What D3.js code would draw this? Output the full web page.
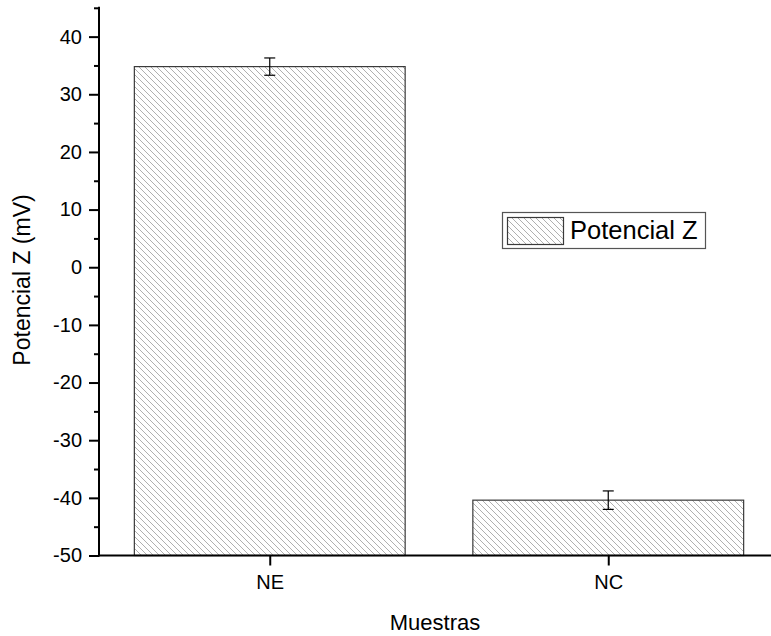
<!DOCTYPE html>
<html>
<head>
<meta charset="utf-8">
<script src="https://cdn.jsdelivr.net/npm/d3@7/dist/d3.min.js"></script>
<style>
  html, body { margin: 0; padding: 0; background: #fff; }
  svg { display: block; }
  text { font-family: "Liberation Sans", Arial, sans-serif; fill: #000; }
</style>
</head>
<body>
<script>
// Zeta potential per sample
const categories = ["NE", "NC"];
const values = [34.8, -40.4];
const errors = [1.5, 1.6];
const yMajorTicks = [-50, -40, -30, -20, -10, 0, 10, 20, 30, 40];
const yMinorTicks = [-45, -35, -25, -15, -5, 5, 15, 25, 35, 45];
const seriesName = "Potencial Z";

const W = 771, H = 636;
const svg = d3.select("body").append("svg").attr("width", W).attr("height", H);

const defs = svg.append("defs");
const pat = defs.append("pattern")
  .attr("id", "hatch")
  .attr("patternUnits", "userSpaceOnUse")
  .attr("width", 6).attr("height", 6);
pat.append("path")
  .attr("d", "M0,0 L6,6 M-1,5 L1,7 M5,-1 L7,1")
  .attr("stroke", "#b0b0b0")
  .attr("stroke-width", 1)
  .attr("shape-rendering", "crispEdges");

const x0 = 99, yBottom = 555.5;
const y = d3.scaleLinear().domain([-50, 45]).range([yBottom, 7.8]);
const x = d3.scaleLinear().domain([0.5, 2.5]).range([100.5, 777.5]);
const barW = x(1.4) - x(0.6);
const fmt = d => String(d);

// bars
const g = svg.append("g");
categories.forEach((c, i) => {
  const cx = x(i + 1);
  g.append("rect")
    .attr("x", cx - barW / 2)
    .attr("y", y(values[i]))
    .attr("width", barW)
    .attr("height", y(-50) - y(values[i]))
    .attr("fill", "url(#hatch)")
    .attr("stroke", "#3a3a3a")
    .attr("stroke-width", 1.2);
  // error bar
  const eb = g.append("g").attr("stroke", "#000").attr("stroke-width", 1.2);
  eb.append("line").attr("x1", cx).attr("x2", cx)
    .attr("y1", y(values[i] + errors[i])).attr("y2", y(values[i] - errors[i]));
  [values[i] + errors[i], values[i] - errors[i]].forEach(v => {
    eb.append("line").attr("x1", cx - 5.5).attr("x2", cx + 5.5)
      .attr("y1", y(v)).attr("y2", y(v));
  });
});

// y axis
const yAxis = svg.append("g").attr("transform", `translate(${x0},0)`)
  .call(d3.axisLeft(y).tickValues(yMajorTicks).tickSize(10).tickPadding(7).tickFormat(fmt));
yAxis.select(".domain").remove();
yAxis.selectAll(".tick line").attr("stroke", "#000").attr("stroke-width", 2);
yAxis.selectAll(".tick text").style("font-size", "20px").style("font-family", "Liberation Sans, Arial, sans-serif");
const yMinor = svg.append("g").attr("transform", `translate(${x0},0)`)
  .call(d3.axisLeft(y).tickValues(yMinorTicks).tickSize(5).tickFormat(""));
yMinor.select(".domain").remove();
yMinor.selectAll(".tick line").attr("stroke", "#000").attr("stroke-width", 2);
svg.append("line").attr("x1", x0).attr("x2", x0)
  .attr("y1", y(45) - 1).attr("y2", yBottom + 1)
  .attr("stroke", "#000").attr("stroke-width", 2);

// x axis
const xAxis = svg.append("g").attr("transform", `translate(0,${yBottom})`)
  .call(d3.axisBottom(x).tickValues([1, 2]).tickSize(10).tickPadding(9)
    .tickFormat(d => categories[d - 1]));
xAxis.select(".domain").remove();
xAxis.selectAll(".tick line").attr("stroke", "#000").attr("stroke-width", 2);
xAxis.selectAll(".tick text").style("font-size", "20px").style("font-family", "Liberation Sans, Arial, sans-serif");
svg.append("line").attr("x1", x0 - 1).attr("x2", W)
  .attr("y1", yBottom).attr("y2", yBottom)
  .attr("stroke", "#000").attr("stroke-width", 2);

// axis titles
svg.append("text")
  .attr("x", 435).attr("y", 630)
  .attr("text-anchor", "middle")
  .style("font-size", "22px")
  .text("Muestras");
svg.append("text")
  .attr("transform", `translate(30,280) rotate(-90)`)
  .attr("text-anchor", "middle")
  .style("font-size", "23px")
  .text("Potencial Z (mV)");

// legend
const lg = svg.append("g");
lg.append("rect").attr("x", 502.5).attr("y", 212.5).attr("width", 203).attr("height", 36)
  .attr("fill", "#fff").attr("stroke", "#555").attr("stroke-width", 1.2);
lg.append("rect").attr("x", 507.5).attr("y", 217.5).attr("width", 56).attr("height", 27)
  .attr("fill", "url(#hatch)").attr("stroke", "#3a3a3a").attr("stroke-width", 1.2);
lg.append("text").attr("x", 570).attr("y", 239)
  .style("font-size", "25.5px").text(seriesName);
</script>
</body>
</html>
